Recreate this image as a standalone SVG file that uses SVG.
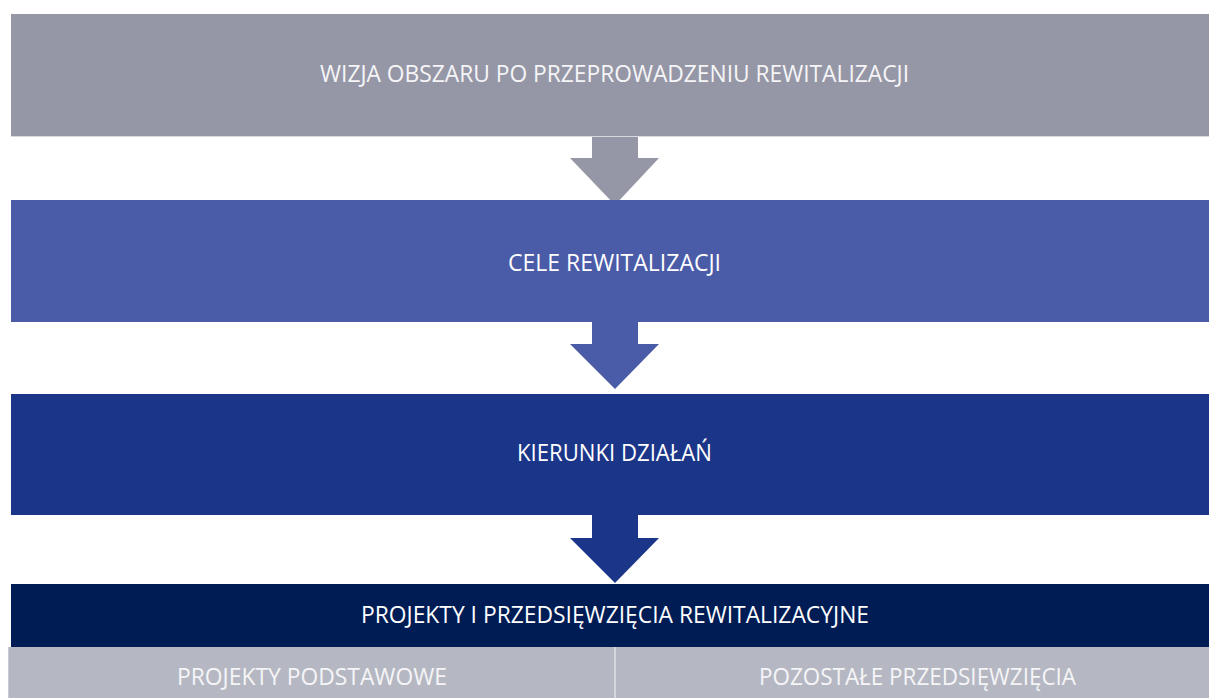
<svg xmlns="http://www.w3.org/2000/svg" width="1209" height="698" viewBox="0 0 1209 698">
<style>
.t{font-family:"Open Sans","Liberation Sans",sans-serif;font-size:23px;fill:#ffffff;text-anchor:middle}
.tg{fill:#f5f5f7}
</style>
<rect width="1209" height="698" fill="#ffffff"/>
<g id="connectors">
<polygon points="592,136 638,136 638,158 659,158 615,205 570,158 592,158" fill="#9697a6"/>
<polygon points="592,322 638,322 638,344 659,344 615,389 570,344 592,344" fill="#4a5ba7"/>
<polygon points="592,515 638,515 638,538 659,538 615,583 570,538 592,538" fill="#1b3589"/>
</g>
<g id="vision">
<rect x="11" y="14" width="1198" height="122" fill="#9697a6"/>
<line x1="11" y1="136.5" x2="1209" y2="136.5" stroke="#d9d9e0" stroke-width="1"/>
<text class="t tg" x="614.5" y="82" textLength="589" lengthAdjust="spacingAndGlyphs">WIZJA OBSZARU PO PRZEPROWADZENIU REWITALIZACJI</text>
</g>
<g id="goals">
<rect x="11" y="200" width="1198" height="122" fill="#4a5ba7"/>
<text class="t" x="614.5" y="271" textLength="213" lengthAdjust="spacingAndGlyphs">CELE REWITALIZACJI</text>
</g>
<g id="directions">
<rect x="11" y="394" width="1198" height="121" fill="#1b3589"/>
<text class="t" x="614.5" y="461" textLength="195" lengthAdjust="spacingAndGlyphs">KIERUNKI DZIAŁAŃ</text>
</g>
<g id="projects">
<rect x="11" y="584" width="1198" height="63" fill="#001c55"/>
<text class="t" x="615" y="623" textLength="508" lengthAdjust="spacingAndGlyphs">PROJEKTY I PRZEDSIĘWZIĘCIA REWITALIZACYJNE</text>
</g>
<g id="basic-projects">
<rect x="8" y="647" width="606" height="51" fill="#b5b8c3"/>
<line x1="8.5" y1="647" x2="8.5" y2="698" stroke="#c9cbd3" stroke-width="1"/>
<text class="t tg" x="312" y="685" textLength="270" lengthAdjust="spacingAndGlyphs">PROJEKTY PODSTAWOWE</text>
</g>
<g id="other-projects">
<rect x="616" y="647" width="593" height="51" fill="#b5b8c3"/>
<line x1="615" y1="647" x2="615" y2="698" stroke="#d5d7de" stroke-width="2"/>
<text class="t tg" x="917.5" y="685" textLength="317" lengthAdjust="spacingAndGlyphs">POZOSTAŁE PRZEDSIĘWZIĘCIA</text>
</g>
</svg>
